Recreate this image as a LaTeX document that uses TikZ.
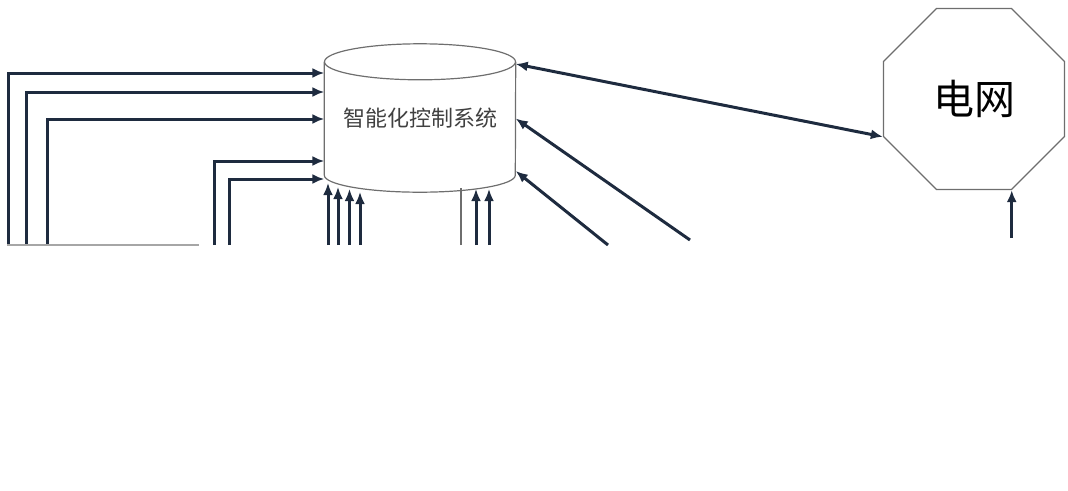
\documentclass[tikz,border=0pt]{standalone}
\usepackage{fontspec}
\newfontfamily\cjk{Noto Sans CJK SC}
\usetikzlibrary{positioning,arrows.meta,shapes.geometric}
\definecolor{navy}{HTML}{1E2B3F}
\definecolor{rim}{HTML}{6E6E6E}
\begin{document}
\begin{tikzpicture}[x=1pt, y=-1pt,
    a/.style={draw=navy, line width=3pt, -{Latex[length=12pt,width=10pt]}},
    r/.style={draw=rim, line width=1.2pt},
    box/.style={minimum width=191pt, minimum height=113pt, inner sep=0pt, text=black!75, font=\cjk\fontsize{22}{26}\selectfont},
    oct/.style={regular polygon, regular polygon sides=8, minimum size=196pt, inner sep=0pt, draw=rim, line width=1.2pt, font=\cjk\fontsize{41}{46}\selectfont}]
		\useasboundingbox (0,0) rectangle (1068,490);
		\node[box] (ctrl) at (420,118.5) {智能化控制系统};
		\node[oct] (grid) at (974,99) {电网};

		% cylinder outline
		\draw[r] (ctrl.north) ellipse[x radius=95.5pt, y radius=18pt];
		\draw[r] (ctrl.north west) -- (ctrl.south west) arc[start angle=180, end angle=360, x radius=95.5pt, y radius=17pt] -- (ctrl.north east);

		% inputs from the left
		\foreach \x/\y [count=\i] in {8/73, 26.5/92, 47.5/119, 214/161, 229.5/179} {
			\coordinate (in\i) at (\x,245);
			\draw[a] (in\i) |- (ctrl.west |- 0,\y);
		}
		\coordinate (base) at (7,245);
		\draw[r, draw=black!35] (base) -- (199,245);

		% inputs from below
		\foreach \x/\y [count=\i] in {328/183, 338/187, 349.5/189, 360/192} {
			\coordinate (up\i) at (\x,245);
			\draw[a] (up\i) -- (up\i |- 0,\y);
		}
		\coordinate (tap) at (461,245);
		\draw[r] (tap) -- (tap |- 0,188);
		\foreach \x [count=\i] in {476, 489} {
			\coordinate (rb\i) at (\x,245);
			\draw[a] (rb\i) -- (rb\i |- 0,189);
		}

		% inputs from the right
		\coordinate (d1) at (690,240);
		\coordinate (d2) at (608,245);
		\draw[a] (d1) -- (ctrl.east);
		\draw[a] (d2) -- (ctrl.east |- 0,171);
		\draw[a, {Latex[length=12pt,width=10pt]}-{Latex[length=12pt,width=10pt]}] (ctrl.east |- 0,64) -- (grid.corner 4);

		\coordinate (gin) at (grid.corner 6 |- 0,238);
		\draw[a] (gin) -- (grid.corner 6);
	\end{tikzpicture}
\end{document}
